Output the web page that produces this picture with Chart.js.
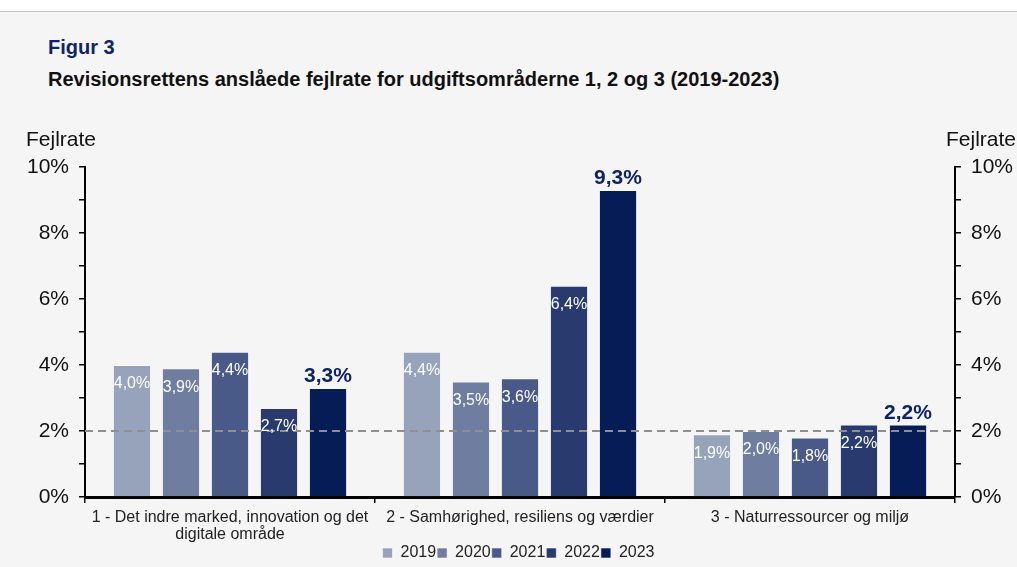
<!DOCTYPE html>
<html>
<head>
<meta charset="utf-8">
<script src="https://cdn.jsdelivr.net/npm/chart.js@4"></script>
<style>
html,body{margin:0;padding:0;}
body{width:1017px;height:567px;background:#f5f5f5;position:relative;overflow:hidden;font-family:"Liberation Sans",Arial,sans-serif;}
#top{position:absolute;left:0;top:0;width:1017px;height:11px;background:#fff;border-bottom:1px solid #c4c4c4;}
#fig{position:absolute;left:48px;top:36px;font-size:20px;font-weight:bold;color:#0d2567;}
#sub{position:absolute;left:48px;top:68px;font-size:20px;font-weight:bold;color:#111;}
#wrap{position:absolute;left:0;top:0;width:1017px;height:567px;}
</style>
</head>
<body>
<div id="top"></div>
<div id="fig">Figur 3</div>
<div id="sub">Revisionsrettens anslåede fejlrate for udgiftsområderne 1, 2 og 3 (2019-2023)</div>
<div id="wrap"><canvas id="chartFejl"></canvas></div>
<script>
// kategorier (udgiftsområder)
const categories = [
  ["1 - Det indre marked, innovation og det", "digitale område"],
  "2 - Samhørighed, resiliens og værdier",
  "3 - Naturressourcer og miljø"
];

const years = ["2019", "2020", "2021", "2022", "2023"];

// fejlrate i %
const v2019 = [4.0, 4.4, 1.9];
const v2020 = [3.9, 3.5, 2.0];
const v2021 = [4.4, 3.6, 1.8];
const v2022 = [2.7, 6.4, 2.2];
const v2023 = [3.3, 9.3, 2.2];

const threshold = 2.0;

const colors = ["#97a3ba", "#6f7da0", "#4a5a88", "#293b6e", "#061c57"];

const FONT = "'Liberation Sans', Arial, sans-serif";
const fmt = v => v.toFixed(1).replace(".", ",") + "%";

/* datasets */
let datasets = [v2019, v2020, v2021, v2022, v2023].map((vals, i) => ({
  label: years[i],
  data: vals,
  backgroundColor: colors[i],
  borderColor: "rgba(255,255,255,0.55)",
  borderWidth: 1,
  barPercentage: 0.78,
  categoryPercentage: 0.845
}));

/* labels + stiplet linje */
const extras = {
  id: "extras",
  afterLayout(chart) {
    // legenden står lidt til højre i originalen
    chart.legend.left += 10;
    chart.legend.right += 10;
  },
  afterDatasetsDraw(chart) {
    const ctx = chart.ctx;
    const y = chart.scales.y;
    const area = chart.chartArea;
    // 2% linje
    ctx.save();
    ctx.strokeStyle = "#8f8f8f";
    ctx.lineWidth = 2;
    ctx.setLineDash([8, 5]);
    ctx.beginPath();
    ctx.moveTo(area.left, y.getPixelForValue(threshold));
    ctx.lineTo(area.right, y.getPixelForValue(threshold));
    ctx.stroke();
    ctx.restore();

    // værdier
    chart.data.datasets.forEach((ds, di) => {
      const meta = chart.getDatasetMeta(di);
      meta.data.forEach((bar, i) => {
        const txt = fmt(ds.data[i]);
        ctx.save();
        ctx.textAlign = "center";
        if (di === 4) {
          ctx.font = "bold 21px " + FONT;
          ctx.fillStyle = "#0d2567";
          ctx.textBaseline = "bottom";
          ctx.fillText(txt, bar.x, bar.y - 1);
        } else {
          ctx.font = "16px " + FONT;
          ctx.fillStyle = "#ffffff";
          ctx.textBaseline = "middle";
          ctx.fillText(txt, bar.x, bar.y + 19);
        }
        ctx.restore();
      });
    });

    // aksetitler
    ctx.save();
    ctx.font = "21px " + FONT;
    ctx.fillStyle = "#111";
    ctx.textBaseline = "middle";
    ctx.textAlign = "left";
    ctx.fillText("Fejlrate", 26, area.top - 27);
    ctx.textAlign = "right";
    ctx.fillText("Fejlrate", 1016, area.top - 27);
    ctx.restore();
  }
};

const yTicks = {
  stepSize: 1,
  color: "#111",
  font: { size: 21, family: FONT },
  padding: 10,
  callback: v => (v % 2 === 0 ? v + "%" : "")
};

new Chart(document.getElementById("chartFejl"), {
  type: "bar",
  data: { labels: categories, datasets },
  plugins: [extras],
  options: {
    responsive: true,
    maintainAspectRatio: false,
    animation: false,
    layout: { padding: { top: 167, left: 0, right: 0, bottom: -4 } },
    scales: {
      x: {
        grid: { display: true, drawOnChartArea: false, offset: true, tickLength: 6, color: "#000", lineWidth: 1.5 },
        border: { display: true, color: "#000", width: 3 },
        ticks: {
          color: "#222",
          font: { size: 16, family: FONT, lineHeight: 1.06 },
          padding: 6,
          maxRotation: 0
        },
        afterFit: s => { s.height = 47; }
      },
      y: {
        position: "left",
        min: 0, max: 10,
        grid: { drawOnChartArea: false, tickLength: 6, color: "#000", lineWidth: 1.5 },
        border: { display: true, color: "#000", width: 2 },
        ticks: yTicks,
        afterFit: s => { s.width = 85; }
      },
      y2: {
        position: "right",
        min: 0, max: 10,
        grid: { drawOnChartArea: false, tickLength: 6, color: "#000", lineWidth: 1.5 },
        border: { display: true, color: "#000", width: 2 },
        ticks: yTicks,
        afterFit: s => { s.width = 62; }
      }
    },
    plugins: {
      legend: {
        position: "bottom",
        labels: {
          boxWidth: 10,
          boxHeight: 10,
          padding: 1,
          color: "#222",
          font: { size: 16, family: FONT }
        }
      },
      tooltip: { enabled: false }
    }
  }
});
</script>
</body>
</html>
